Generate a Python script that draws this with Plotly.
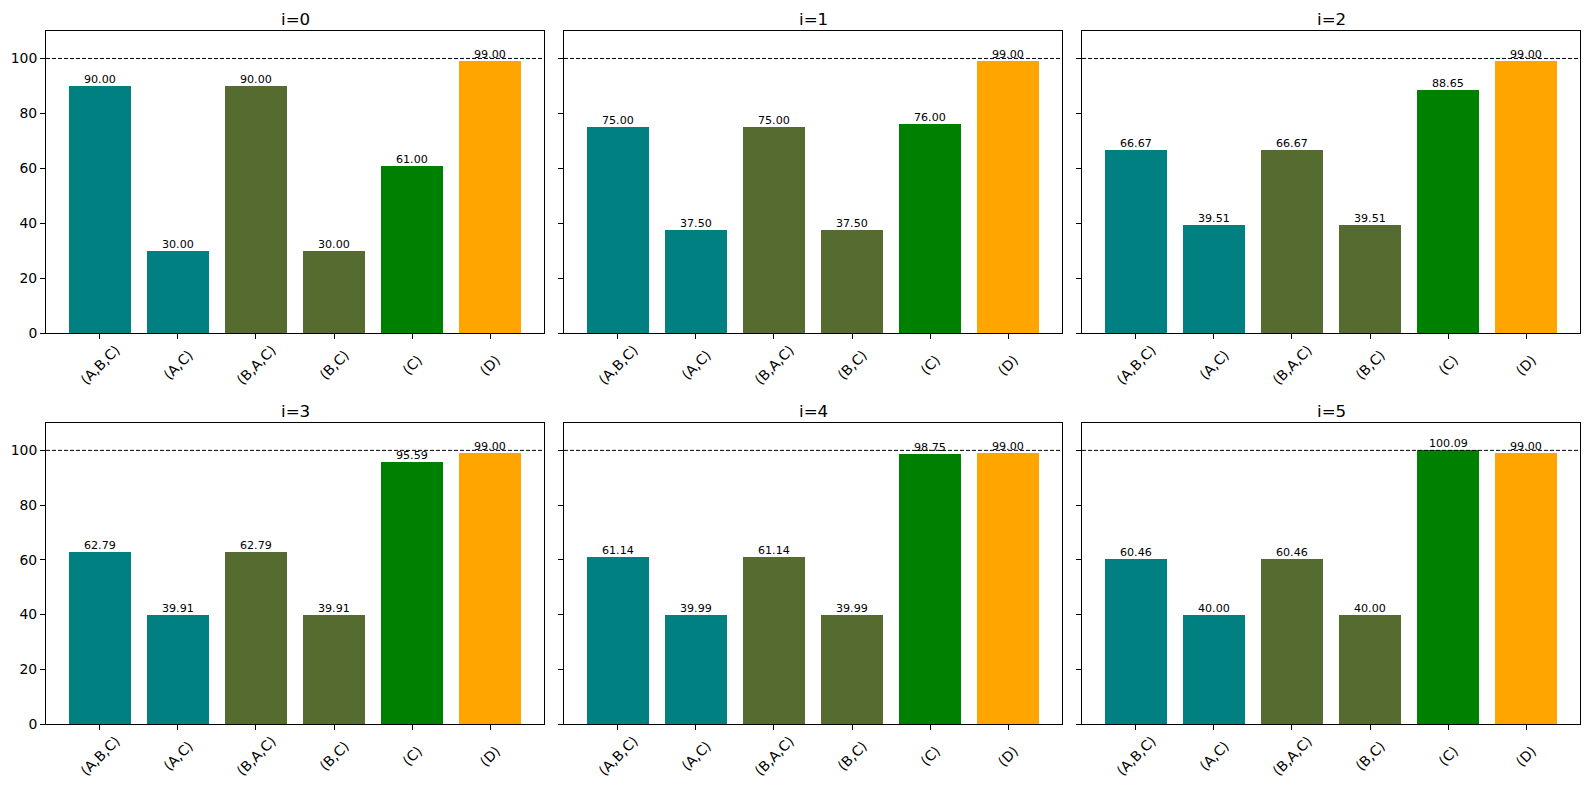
import plotly.graph_objects as go

categories = ["(A,B,C)", "(A,C)", "(B,A,C)", "(B,C)", "(C)", "(D)"]
bar_colors = ["#008080", "#008080", "#556B2F", "#556B2F", "#008000", "#FFA500"]
panel_titles = ["i=0", "i=1", "i=2", "i=3", "i=4", "i=5"]
values_i0 = [90.00, 30.00, 90.00, 30.00, 61.00, 99.00]
values_i1 = [75.00, 37.50, 75.00, 37.50, 76.00, 99.00]
values_i2 = [66.67, 39.51, 66.67, 39.51, 88.65, 99.00]
values_i3 = [62.79, 39.91, 62.79, 39.91, 95.59, 99.00]
values_i4 = [61.14, 39.99, 61.14, 39.99, 98.75, 99.00]
values_i5 = [60.46, 40.00, 60.46, 40.00, 100.09, 99.00]
reference_level = 100
yticks = [0, 20, 40, 60, 80, 100]

all_values = [values_i0, values_i1, values_i2, values_i3, values_i4, values_i5]

W, H = 1589, 789
xdoms = [(46 / W, 544 / W), (564 / W, 1062 / W), (1082 / W, 1580 / W)]
ydoms = [(1 - 333 / H, 1 - 31 / H), (1 - 724 / H, 1 - 423 / H)]

fig = go.Figure()
font_family = "DejaVu Sans"
xpos = list(range(len(categories)))

for k, vals in enumerate(all_values):
    r, c = divmod(k, 3)
    ax = "" if k == 0 else str(k + 1)
    xa, ya = "x" + ax, "y" + ax
    fig.add_trace(go.Bar(
        x=xpos, y=vals, width=0.8, marker=dict(color=bar_colors, line=dict(width=0)),
        xaxis=xa, yaxis=ya, showlegend=False, hoverinfo="x+y",
    ))
    fig.update_layout(**{
        "xaxis" + ax: dict(
            domain=list(xdoms[c]), anchor=ya, range=[-0.69, 5.69],
            tickvals=xpos, showticklabels=False, ticks="outside", ticklen=5,
            tickcolor="black", showline=True, mirror=True, linecolor="black",
            linewidth=1, showgrid=False, zeroline=False, automargin=False,
        ),
        "yaxis" + ax: dict(
            domain=list(ydoms[r]), anchor=xa, range=[0, 110],
            tickvals=yticks, showticklabels=(c == 0), ticks="outside", ticklen=5,
            tickcolor="black", showline=True, mirror=True, linecolor="black",
            linewidth=1, showgrid=False, zeroline=False, automargin=False,
            tickfont=dict(size=13.9, family=font_family, color="black"),
        ),
    })
    fig.add_shape(type="line", xref=xa + " domain", yref=ya, x0=0, x1=1,
                  y0=reference_level, y1=reference_level,
                  line=dict(color="black", width=1, dash="4px,2px"))
    fig.add_annotation(text=panel_titles[k], xref=xa + " domain", yref="paper",
                       x=0.5, y=ydoms[r][1], yanchor="bottom", yshift=0,
                       showarrow=False,
                       font=dict(size=16.7, family=font_family, color="black"))
    for j, (cat, v) in enumerate(zip(categories, vals)):
        fig.add_annotation(text=f"{v:.2f}", xref=xa, yref=ya, x=j, y=v,
                           yanchor="bottom", yshift=-2, showarrow=False,
                           font=dict(size=11.1, family=font_family, color="black"))
        fig.add_annotation(text=cat, xref=xa, yref="paper", x=j, y=ydoms[r][0],
                           yshift=-32, textangle=-45, showarrow=False,
                           xanchor="center", yanchor="middle",
                           font=dict(size=13.9, family=font_family, color="black"))

fig.update_layout(
    width=W, height=H, margin=dict(l=0, r=0, t=0, b=0, autoexpand=False),
    plot_bgcolor="white", paper_bgcolor="white",
    font=dict(family=font_family, color="black"),
    bargap=0,
)
fig.write_html("out.html", config={"displayModeBar": False},
               post_script="document.body.style.margin='0';document.body.style.overflow='hidden';")
